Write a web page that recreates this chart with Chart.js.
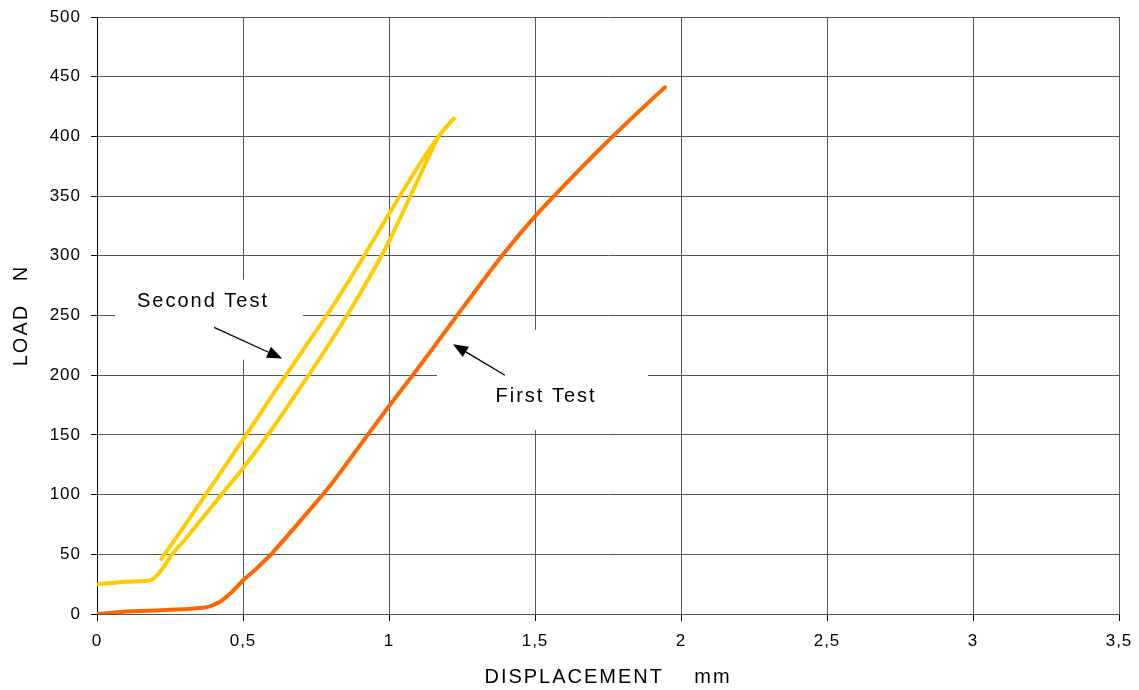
<!DOCTYPE html>
<html>
<head>
<meta charset="utf-8">
<script src="https://cdn.jsdelivr.net/npm/chart.js@4"></script>
<style>
  html, body { margin: 0; padding: 0; background: #fff; }
  #wrap { width: 1139px; height: 690px; }
</style>
</head>
<body>
<div id="wrap"><canvas id="loadChart"></canvas></div>
<script>
// --- data (displacement mm, load N) ---
const firstX = [0, 0.05, 0.1, 0.2, 0.3, 0.35, 0.38, 0.42, 0.46, 0.5, 0.55, 0.6, 0.7, 0.8, 0.9, 1.0, 1.1, 1.2, 1.3, 1.4, 1.5, 1.6, 1.7, 1.8, 1.9, 1.945];
const firstY = [0, 1, 2, 3, 4, 5, 6, 10, 18, 28, 39, 51, 79, 108, 141, 174, 206, 239, 272, 304, 333, 359, 384, 408, 431, 441];

// second test: loading branch then unloading branch (loop)
const secondX = [0, 0.05, 0.1, 0.18, 0.2, 0.23, 0.257, 0.3, 0.4, 0.5, 0.6, 0.7, 0.8, 0.9, 1.0, 1.1, 1.17, 1.226,
                 1.17, 1.1, 1.0, 0.9, 0.8, 0.7, 0.6, 0.5, 0.4, 0.3, 0.22];
const secondY = [25, 26, 27, 28, 31, 40, 50, 62, 92, 122, 155, 191, 228, 268, 312, 364, 400, 416,
                 400, 375, 335, 294, 255, 219, 183, 146, 110, 74, 46];

const xTicks = [0, 0.5, 1, 1.5, 2, 2.5, 3, 3.5];
const yTicks = [0, 50, 100, 150, 200, 250, 300, 350, 400, 450, 500];

// labels with white boxes and arrows, in data units
const noteText = ['Second Test', 'First Test'];
const noteTextAt = [[0.363, 262], [1.538, 182]];
const noteBox = [[0.062, 280, 0.705, 213], [1.164, 238, 1.887, 154]];
const noteArrow = [[0.401, 240, 0.634, 214], [1.397, 200, 1.219, 226]];

const FONT = '"Liberation Sans", Arial, sans-serif';

function toPoints(xs, ys) {
    return xs.map((x, i) => ({ x: x, y: ys[i] }));
}

function commaNum(v) {
    return String(v).replace('.', ',');
}

// drop the label overflow padding so layout.padding alone sets the plot box
function noOverflow(s) {
    s.paddingTop = 0;
    s.paddingBottom = 0;
    s.paddingLeft = 0;
    s.paddingRight = 0;
}

const notesPlugin = {
    id: 'notes',
    beforeLayout(chart) {
        chart.ctx.letterSpacing = '1px';
    },
    beforeDatasetsDraw(chart) {
        const ctx = chart.ctx, xs = chart.scales.x, ys = chart.scales.y;
        ctx.save();
        ctx.fillStyle = '#ffffff';
        noteBox.forEach(b => {
            const x1 = xs.getPixelForValue(b[0]), y1 = ys.getPixelForValue(b[1]);
            const x2 = xs.getPixelForValue(b[2]), y2 = ys.getPixelForValue(b[3]);
            ctx.fillRect(x1, y1, x2 - x1, y2 - y1);
        });
        ctx.restore();
    },
    afterDatasetsDraw(chart) {
        const ctx = chart.ctx, xs = chart.scales.x, ys = chart.scales.y;
        ctx.save();
        ctx.letterSpacing = '2px';
        ctx.font = '20px ' + FONT;
        ctx.fillStyle = '#000';
        ctx.textAlign = 'center';
        ctx.textBaseline = 'middle';
        noteText.forEach((t, i) => {
            ctx.fillText(t, xs.getPixelForValue(noteTextAt[i][0]), ys.getPixelForValue(noteTextAt[i][1]));
        });

        // arrows
        ctx.strokeStyle = '#000';
        ctx.lineWidth = 1.3;
        noteArrow.forEach(a => {
            const x0 = xs.getPixelForValue(a[0]), y0 = ys.getPixelForValue(a[1]);
            const x1 = xs.getPixelForValue(a[2]), y1 = ys.getPixelForValue(a[3]);
            const ang = Math.atan2(y1 - y0, x1 - x0);
            const len = 15, half = 6;
            const bx = x1 - len * Math.cos(ang), by = y1 - len * Math.sin(ang);
            ctx.beginPath();
            ctx.moveTo(x0, y0);
            ctx.lineTo(bx, by);
            ctx.stroke();
            ctx.beginPath();
            ctx.moveTo(x1, y1);
            ctx.lineTo(bx + half * Math.sin(ang), by - half * Math.cos(ang));
            ctx.lineTo(bx - half * Math.sin(ang), by + half * Math.cos(ang));
            ctx.closePath();
            ctx.fill();
        });
        ctx.restore();
    },
    afterDraw(chart) {
        // axis titles
        const ctx = chart.ctx, area = chart.chartArea;
        ctx.save();
        ctx.letterSpacing = '2px';
        ctx.font = '20px ' + FONT;
        ctx.fillStyle = '#000';
        ctx.textAlign = 'center';
        ctx.textBaseline = 'middle';
        ctx.fillText('DISPLACEMENT    mm', (area.left + area.right) / 2, 677);
        ctx.translate(21, (area.top + area.bottom) / 2);
        ctx.rotate(-Math.PI / 2);
        ctx.fillText('LOAD   N', 0, 0);
        ctx.restore();
    }
};

const ctx = document.getElementById('loadChart').getContext('2d');

new Chart(ctx, {
    type: 'scatter',
    data: {
        datasets: [{
            label: 'First Test',
            data: toPoints(firstX, firstY),
            showLine: true,
            borderColor: '#ff6600',
            borderWidth: 4,
            pointRadius: 0,
            tension: 0.2,
            borderCapStyle: 'round'
        }, {
            label: 'Second Test',
            data: toPoints(secondX, secondY),
            showLine: true,
            borderColor: '#ffcc00',
            borderWidth: 4,
            pointRadius: 0,
            tension: 0.2,
            borderCapStyle: 'round'
        }]
    },
    options: {
        responsive: true,
        maintainAspectRatio: false,
        animation: false,
        layout: { padding: { top: 17, right: 20, left: 0, bottom: 0 } },
        plugins: {
            legend: { display: false },
            tooltip: { enabled: false }
        },
        scales: {
            x: {
                type: 'linear',
                min: 0,
                max: 3.5,
                afterBuildTicks: s => { s.ticks = xTicks.map(v => ({ value: v })); },
                afterFit: s => { s.height = 76; noOverflow(s); },
                ticks: {
                    color: '#000',
                    padding: 10,
                    maxRotation: 0,
                    font: { family: FONT, size: 17 },
                    callback: v => commaNum(v)
                },
                grid: { color: '#555', lineWidth: 1, tickLength: 7, tickColor: '#000' },
                border: { color: '#555', width: 1 }
            },
            y: {
                type: 'linear',
                min: 0,
                max: 500,
                afterBuildTicks: s => { s.ticks = yTicks.map(v => ({ value: v })); },
                afterFit: s => { s.width = 97; noOverflow(s); },
                ticks: {
                    color: '#000',
                    padding: 10,
                    font: { family: FONT, size: 17 }
                },
                grid: { color: '#555', lineWidth: 1, tickLength: 6, tickColor: '#000' },
                border: { color: '#000', width: 1 }
            }
        }
    },
    plugins: [notesPlugin]
});
</script>
</body>
</html>
